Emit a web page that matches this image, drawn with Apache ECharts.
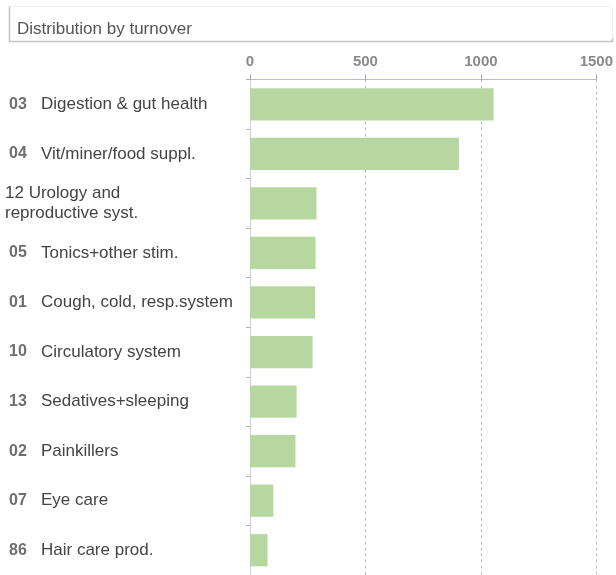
<!DOCTYPE html>
<html>
<head>
<meta charset="utf-8">
<script src="https://cdn.jsdelivr.net/npm/echarts@6/dist/echarts.min.js"></script>
<style>
  html, body { margin: 0; padding: 0; background: #fff; }
  #chart { width: 616px; height: 575px; }
</style>
</head>
<body>
<div id="chart"></div>
<script>
// Product groups ranked by turnover
const codes = ['03', '04', '12', '05', '01', '10', '13', '02', '07', '86'];
const names = [
  'Digestion & gut health',
  'Vit/miner/food suppl.',
  'Urology and\nreproductive syst.',
  'Tonics+other stim.',
  'Cough, cold, resp.system',
  'Circulatory system',
  'Sedatives+sleeping',
  'Painkillers',
  'Eye care',
  'Hair care prod.'
];
const turnover = [1055, 905, 288, 284, 282, 271, 202, 197, 101, 76];
const axisTicks = [0, 500, 1000, 1500];

const categories = codes.map((c, i) => c + '|' + names[i]);

const chart = echarts.init(document.getElementById('chart'), null, { renderer: 'canvas' });

chart.setOption({
  animation: false,
  backgroundColor: '#ffffff',
  title: {
    text: 'Distribution by turnover',
    left: 17,
    top: 21,
    padding: 0,
    textStyle: {
      fontFamily: 'Liberation Sans, Arial, sans-serif',
      fontSize: 17,
      fontWeight: 'normal',
      color: '#555555'
    }
  },
  graphic: [
    {
      type: 'rect',
      shape: { x: 9.5, y: 6.5, width: 603, height: 35 },
      style: { fill: 'none', stroke: '#f0f0f0', lineWidth: 1 },
      silent: true
    },
    {
      type: 'polyline',
      shape: { points: [[9.5, 6.5], [9.5, 41.5], [612.5, 41.5], [612.5, 38]] },
      style: { fill: 'none', stroke: '#c4c4c4', lineWidth: 1.5 },
      silent: true
    }
  ],
  grid: {
    left: 250,
    top: 79.5,
    width: 348,
    height: 506,
    containLabel: false
  },
  xAxis: {
    type: 'value',
    position: 'top',
    min: axisTicks[0],
    max: axisTicks[axisTicks.length - 1],
    interval: axisTicks[1] - axisTicks[0],
    axisLine: { show: true, lineStyle: { color: '#b9b9d2', width: 1 } },
    axisTick: { show: true, length: 5, lineStyle: { color: '#a0a0b8' } },
    axisLabel: {
      margin: 10,
      formatter: function (v) { return String(v); },
      fontFamily: 'Liberation Sans, Arial, sans-serif',
      fontSize: 15,
      fontWeight: 'bold',
      color: '#8a8a8a'
    },
    splitLine: {
      show: true,
      lineStyle: { color: '#bdbdbd', type: [3, 3], width: 1 }
    }
  },
  yAxis: {
    type: 'category',
    inverse: true,
    data: categories,
    axisLine: { show: true, lineStyle: { color: '#d0d0d0', width: 1 } },
    axisTick: { show: true, length: 4, lineStyle: { color: '#b0b0b0' } },
    axisLabel: {
      align: 'left',
      margin: 245,
      formatter: function (value) {
        const parts = value.split('|');
        const code = parts[0];
        const label = parts[1];
        if (label.indexOf('\n') >= 0) {
          const lines = label.split('\n');
          return '{u|' + code + ' ' + lines[0] + '}\n{u|' + lines[1] + '}';
        }
        return '{c|' + code + '}{n|' + label + '}';
      },
      rich: {
        c: {
          fontFamily: 'Liberation Sans, Arial, sans-serif',
          fontSize: 16,
          fontWeight: 'bold',
          color: '#6e6e6e',
          width: 32,
          padding: [0, 0, 0, 4]
        },
        n: {
          fontFamily: 'Liberation Sans, Arial, sans-serif',
          fontSize: 17,
          color: '#444444'
        },
        u: {
          fontFamily: 'Liberation Sans, Arial, sans-serif',
          fontSize: 17,
          lineHeight: 20,
          color: '#444444'
        }
      }
    }
  },
  series: [
    {
      type: 'bar',
      data: turnover,
      barWidth: '65%',
      itemStyle: { color: '#b7d7a0' },
      silent: true
    }
  ]
});
</script>
</body>
</html>
